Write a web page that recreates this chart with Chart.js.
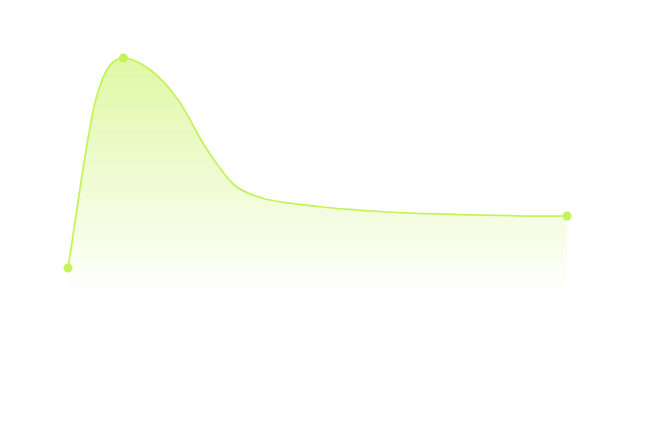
<!DOCTYPE html>
<html>
<head>
<meta charset="utf-8">
<script src="https://cdn.jsdelivr.net/npm/chart.js@4"></script>
<style>
    html, body { margin: 0; padding: 0; background: #ffffff; }
    #wrap { width: 647px; height: 434px; }
</style>
</head>
<body>
<div id="wrap"><canvas id="trend-chart"></canvas></div>
<script>
const labels = ['1', '2', '3', '4', '5', '6', '7', '8', '9', '10',
                '11', '12', '13', '14', '15', '16', '17', '18', '19'];
const values = [22, 190, 232, 219.5, 189, 141, 105, 92, 86.8, 83.5,
                80.8, 79, 77.3, 76.3, 75.5, 74.8, 74.3, 74, 74];
const highlighted = [0, 2, 18]; // points that show a dot

const lineColor = '#c4f25a';

document.addEventListener('DOMContentLoaded', function() {
    createTrendChart();
});

function createTrendChart() {
    const ctx = document.getElementById('trend-chart').getContext('2d');

    new Chart(ctx, {
        type: 'line',
        data: {
            labels: labels,
            datasets: [{
                data: values,
                borderColor: lineColor,
                borderWidth: 1.75,
                cubicInterpolationMode: 'monotone',
                fill: 'start',
                backgroundColor: function(context) {
                    const area = context.chart.chartArea;
                    if (!area) return 'rgba(196,242,90,0.3)';
                    const g = context.chart.ctx.createLinearGradient(0, area.top, 0, area.bottom);
                    g.addColorStop(0, 'rgba(196,242,90,0.58)');
                    g.addColorStop(1, 'rgba(196,242,90,0.02)');
                    return g;
                },
                pointRadius: values.map((v, i) => highlighted.includes(i) ? 4.5 : 0),
                pointHoverRadius: 5,
                pointBackgroundColor: lineColor,
                pointBorderWidth: 0
            }]
        },
        options: {
            responsive: true,
            maintainAspectRatio: false,
            animation: false,
            layout: {
                padding: { left: 68, right: 80, top: 40, bottom: 144 }
            },
            plugins: {
                legend: { display: false },
                tooltip: { enabled: false }
            },
            scales: {
                x: { display: false, offset: false },
                y: { display: false, min: 0, max: 250 }
            }
        }
    });
}
</script>
</body>
</html>
